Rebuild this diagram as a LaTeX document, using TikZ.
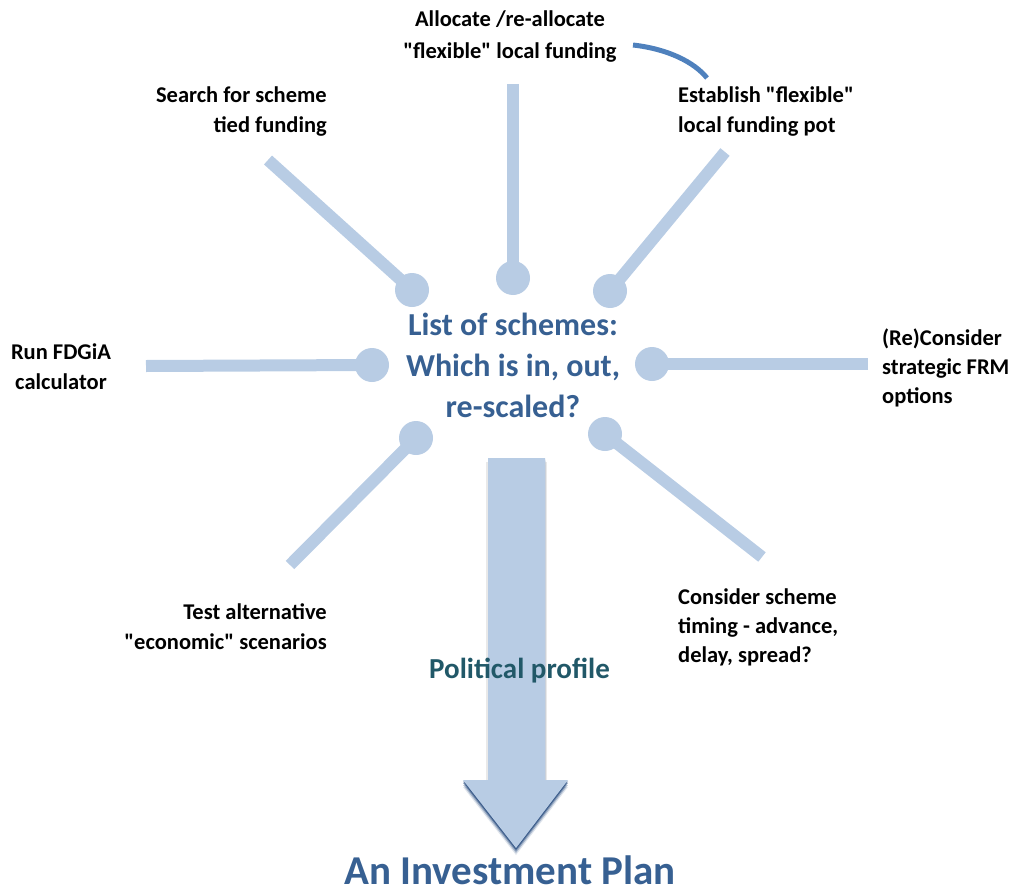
\documentclass[tikz,border=0pt]{standalone}
\usepackage{fontspec}
\setmainfont{Carlito}[Ligatures=TeXOff]
\begin{document}
\definecolor{spoke}{HTML}{B8CCE4}
\definecolor{hub}{HTML}{376092}
\definecolor{teal}{HTML}{215868}
\definecolor{accent}{HTML}{4F81BD}
\definecolor{deep}{HTML}{24497D}
\begin{tikzpicture}[x=1pt,y=-1pt,
  spokeline/.style={draw=spoke,line width=12pt},
  knob/.style={circle,fill=spoke,minimum size=34pt,inner sep=0pt},
  task/.style={font=\fontsize{22.5}{30}\selectfont\bfseries,inner sep=0pt,text=black},
  hubtext/.style={font=\fontsize{32}{41}\selectfont\bfseries,inner sep=0pt,text=hub,align=center}]
\useasboundingbox (0,0) rectangle (1019,888);

% knobs round the hub
\node[knob] (kt)  at (513,278) {};
\node[knob] (kul) at (412,290) {};
\node[knob] (kur) at (610,291) {};
\node[knob] (kl)  at (372,365) {};
\node[knob] (kr)  at (652,364) {};
\node[knob] (kll) at (416,438) {};
\node[knob] (klr) at (605,434) {};

% free ends of the spokes
\coordinate (et)  at (513,84);
\coordinate (eul) at (268,160);
\coordinate (eur) at (725,152);
\coordinate (el)  at (146,366);
\coordinate (er)  at (868,364);
\coordinate (ell) at (290,565);
\coordinate (elr) at (762,557);

\draw[spokeline] (et) -- (kt.center);
\draw[spokeline] (eul) -- (kul.center);
\draw[spokeline] (eur) -- (kur.center);
\draw[spokeline] (el) -- (kl.center);
\draw[spokeline] (er) -- (kr.center);
\draw[spokeline] (ell) -- (kll.center);
\draw[spokeline] (elr) -- (klr.center);

% central question
\node[hubtext,anchor=north] (hub) at (513,313) {List of schemes:\\Which is in, out,\\re-scaled?};

% labels at the spoke ends
\node[task,anchor=north,align=center,font=\fontsize{22.5}{32}\selectfont\bfseries] (alloc) at (510,11) {Allocate /re-allocate\\"flexible" local funding};
\node[task,anchor=north east,align=right] (search) at (327,87) {Search for scheme\\tied funding};
\node[task,anchor=north west,align=left] (pot) at (678,87) {Establish "flexible"\\local funding pot};
\node[task,anchor=north,align=center] (fdgia) at (61,344) {Run FDGiA\\calculator};
\node[task,anchor=north west,align=left,font=\fontsize{22.5}{29}\selectfont\bfseries] (frm) at (882,329) {(Re)Consider\\strategic FRM\\options};
\node[task,anchor=north east,align=right] (econ) at (327,603) {Test alternative\\"economic" scenarios};
\node[task,anchor=north west,align=left,font=\fontsize{22.5}{29}\selectfont\bfseries] (timing) at (678,589) {Consider scheme\\timing - advance,\\delay, spread?};

% link between the two funding steps
\draw[accent,line width=5pt] (633,45) .. controls (668,49) and (694,62) .. (707,78);

% the big downward arrow with its soft shadow
\foreach \d/\o in {7/0.15,5/0.3,3/0.5,1.5/0.7}{
  \fill[deep,opacity=\o] (488,458+\d) -- (545,458+\d) -- (545,780+\d) -- (568,780+\d)
     -- (516,848+\d) -- (463,780+\d) -- (488,780+\d) -- cycle;
}
\fill[black!25,opacity=0.35] (486,462) rectangle (547,780);
\fill[spoke] (488,458) -- (545,458) -- (545,780) -- (568,780) -- (516,848)
  -- (463,780) -- (488,780) -- cycle;

\node[font=\fontsize{29}{34}\selectfont\bfseries,text=teal,inner sep=0pt] (profile) at (519.5,671) {Political profile};
\node[font=\fontsize{41}{48}\selectfont\bfseries,text=hub,inner sep=0pt,anchor=base] (plan) at (510,884) {An Investment Plan};
\end{tikzpicture}
\end{document}
